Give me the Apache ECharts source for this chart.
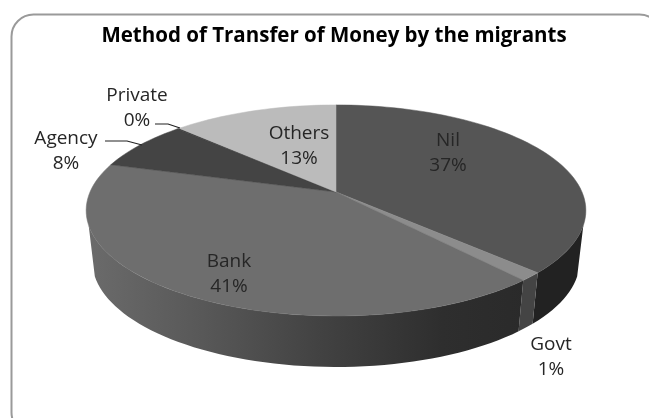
<!DOCTYPE html>
<html><head><meta charset="utf-8">
<style>html,body{margin:0;padding:0;background:#fff}#c{width:649px;height:418px;filter:blur(0.45px)}</style>
<script src="https://cdn.jsdelivr.net/npm/echarts@6/dist/echarts.min.js"></script>
</head><body><div id="c"></div>
<script>
const titleText = 'Method of Transfer of Money by the migrants';
const categories = ['Nil', 'Govt', 'Bank', 'Agency', 'Private', 'Others'];
const shares = [37.2, 1.3, 41.0, 7.6, 0.2, 12.7];
const shownPercents = ['37%', '1%', '41%', '8%', '0%', '13%'];

const topColors = ['#555555', '#8c8c8c', '#6e6e6e', '#444444', '#3a3a3a', '#bbbbbb'];
const sideColors = ['#222222', '#444444', null, '#333333', '#333333', '#777777'];
const labelAnchors = [[448,153],[551,357],[229,274],[66,151],[137,108],[299,146]];
const leaders = {3:[[105,141],[127,141],[142,145]], 4:[[155,124],[168,124],[180,128]]};

const CX=336, CY=192, C=246, A=102.3, K=0.175, DROP=51, SHRINK=0.975;
const SIDE_FROM=108*Math.PI/180, SIDE_TO=252*Math.PI/180;
const total = shares.reduce((a,b)=>a+b,0);
function project(theta){
  const u=Math.sin(theta), v=-Math.cos(theta), w=1-K*v;
  return [CX+C*u/w, CY+A*v/w];
}
function lower(p){ return [CX+(p[0]-CX)*SHRINK, p[1]+DROP]; }
function range(i){
  let s=0; for(let k=0;k<i;k++) s+=shares[k];
  return [s/total*2*Math.PI,(s+shares[i])/total*2*Math.PI];
}
function arcPts(a,b){
  const n=Math.max(2,Math.ceil((b-a)/(Math.PI/90))), r=[];
  for(let j=0;j<=n;j++) r.push(project(a+(b-a)*j/n));
  return r;
}
const bankGradient = new echarts.graphic.LinearGradient(93,0,530,0,[
  {offset:0,color:'#6a6a6a'},{offset:0.25,color:'#585858'},{offset:0.52,color:'#424242'},
  {offset:0.8,color:'#2e2e2e'},{offset:1,color:'#2a2a2a'}],true);
function renderSide(params,api){
  const i=api.value(0), r=range(i), a=Math.max(r[0],SIDE_FROM), b=Math.min(r[1],SIDE_TO);
  if(b<=a) return {type:'group',children:[]};
  const pts=arcPts(a,b);
  const poly=pts.concat(pts.slice().reverse().map(lower));
  const fill=sideColors[i]||bankGradient;
  return {type:'polygon',shape:{points:poly},style:{fill:fill}};
}
function renderTop(params,api){
  const i=api.value(0), [a,b]=range(i), col=topColors[i];
  return {type:'polygon',shape:{points:[[CX,CY]].concat(arcPts(a,b))},style:{fill:col,stroke:col,lineWidth:0.5}};
}
function renderLabel(params,api){
  const i=api.value(0), kids=[], an=labelAnchors[i];
  kids.push({type:'text',x:an[0],y:an[1],style:{text:categories[i]+'\n'+shownPercents[i],
    fill:'#262626',font:'19px "Open Sans"',lineHeight:25,align:'center',verticalAlign:'middle'}});
  if(leaders[i]) kids.push({type:'polyline',shape:{points:leaders[i]},style:{fill:'none',stroke:'#222',lineWidth:1.2}});
  return {type:'group',children:kids};
}
const rows = shares.map((v,i)=>[i,v]);
const chart = echarts.init(document.getElementById('c'),null,{renderer:'canvas'});
chart.setOption({
  animation:false,
  backgroundColor:'#fff',
  title:{text:titleText,left:329,top:21,textAlign:'center',
    textStyle:{fontFamily:'Open Sans',fontSize:20.5,fontWeight:'bold',color:'#000'}},
  graphic:[{type:'rect',shape:{x:11.5,y:14.5,width:650,height:420,r:22},z:0,silent:true,
    style:{fill:'none',stroke:'#9a9a9a',lineWidth:2}}],
  series:[
    {type:'custom',coordinateSystem:'none',renderItem:renderSide,data:rows,z:2,silent:true},
    {type:'custom',coordinateSystem:'none',renderItem:renderTop,data:rows,z:3,silent:true},
    {type:'custom',coordinateSystem:'none',renderItem:renderLabel,data:rows,z:4,silent:true}
  ]
});
</script></body></html>
